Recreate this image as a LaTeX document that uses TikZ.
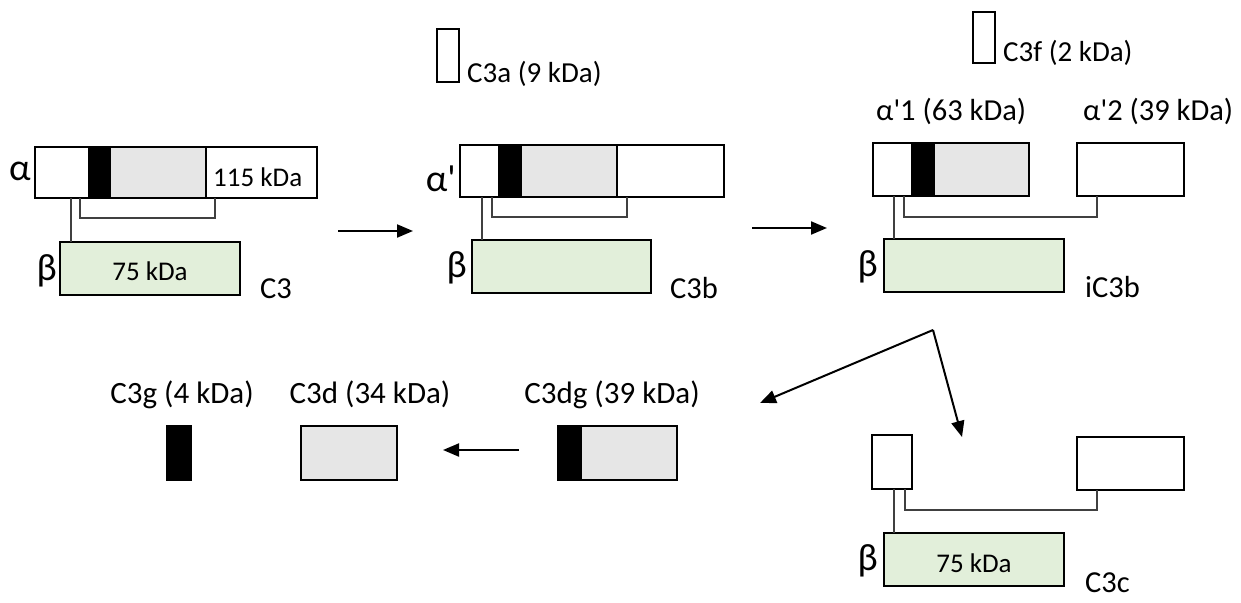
\documentclass[tikz,border=0pt]{standalone}
\usepackage{fontspec}
\setmainfont{Carlito}
\usetikzlibrary{arrows.meta}
\definecolor{betagreen}{HTML}{E2EFDA}
\definecolor{domgrey}{HTML}{E6E6E6}
\definecolor{linkgrey}{HTML}{404040}
\begin{document}
\begin{tikzpicture}[x=1pt,y=-1pt,
  chainbox/.style={draw=black, line width=1.9pt, inner sep=0pt, outer sep=0pt, anchor=north west},
  sz/.style 2 args={minimum width=#1pt, minimum height=#2pt},
  betabox/.style={chainbox, fill=betagreen},
  link/.style={draw=linkgrey, line width=1.1pt},
  react/.style={-{Triangle[length=16pt,width=13pt]}, line width=2pt},
  cname/.style={inner sep=0pt, font=\fontsize{30.5}{36}\selectfont},
  frag/.style={inner sep=0pt, font=\fontsize{29}{34}\selectfont},
  mass/.style={inner sep=0pt, font=\fontsize{27}{32}\selectfont},
  prod/.style={inner sep=0pt, font=\fontsize{31}{36}\selectfont},
  greek/.style={inner sep=0pt, anchor=base east, font=\fontsize{38}{44}\selectfont},
]
\useasboundingbox (0,0) rectangle (1241,602);

% ---------- C3 ----------
\fill[black] (88,147) rectangle (111,198);
\fill[domgrey] (111,147) rectangle (206,198);
\draw[line width=1.9pt] (206,147) -- (206,198);
\node[chainbox, sz={282}{51}] (c3a) at (35,147) {};
\node[betabox, sz={180}{53}] (c3b) at (60,242) {};
\draw[link] ([xshift=36pt]c3a.south west) -- ([xshift=36pt]c3a.south west |- c3b.north);
\draw[link] ([xshift=45pt]c3a.south west) -- ++(0,20) -| ([xshift=-102pt]c3a.south east);
\node[greek] (c3alab) at (31,180) {α};
\node[greek] (c3blab) at (57,280) {β};
\node[mass, anchor=base west] (c3amass) at (213,186) {115 kDa};
\node[mass, anchor=base] (c3bmass) at (150,280) {75 kDa};
\node[cname, anchor=base west] (c3name) at (260,298) {C3};

% ---------- C3b ----------
\node[chainbox, sz={22}{53}] (c3afrag) at (437,29) {};
\node[frag, anchor=base west] (c3afraglab) at (467,82) {C3a (9 kDa)};
\fill[black] (498,145) rectangle (522,197);
\fill[domgrey] (522,145) rectangle (617,197);
\draw[line width=1.9pt] (617,145) -- (617,197);
\node[chainbox, sz={264}{52}] (c3ba) at (460,145) {};
\node[betabox, sz={179}{53}] (c3bb) at (472,240) {};
\draw[link] ([xshift=22pt]c3ba.south west) -- ([xshift=22pt]c3ba.south west |- c3bb.north);
\draw[link] ([xshift=32pt]c3ba.south west) -- ++(0,20) -| ([xshift=-97pt]c3ba.south east);
\node[greek] (c3balab) at (456,191) {α\textquotesingle};
\node[greek] (c3bblab) at (467,277) {β};
\node[cname, anchor=base west] (c3bname) at (670,298) {C3b};

% ---------- iC3b ----------
\node[chainbox, sz={22}{51}] (c3ffrag) at (973,12) {};
\node[frag, anchor=base west] (c3ffraglab) at (1003,62) {C3f (2 kDa)};
\fill[black] (911,143) rectangle (935,196);
\fill[domgrey] (935,143) rectangle (1029,196);
\node[chainbox, sz={156}{53}] (ia1) at (873,143) {};
\node[chainbox, sz={107}{53}] (ia2) at (1077,143) {};
\node[betabox, sz={180}{53}] (ib) at (884,239) {};
\draw[link] ([xshift=21pt]ia1.south west) -- ([xshift=21pt]ia1.south west |- ib.north);
\draw[link] ([xshift=31pt]ia1.south west) -- ++(0,21) -| ([xshift=20pt]ia2.south west);
\node[cname, anchor=base west] (ia1lab) at (876,120) {α\textquotesingle1 (63 kDa)};
\node[cname, anchor=base west] (ia2lab) at (1083,120) {α\textquotesingle2 (39 kDa)};
\node[greek] (iblab) at (878,276) {β};
\node[cname, anchor=base west] (icname) at (1085,297) {iC3b};

% ---------- C3c ----------
\node[chainbox, sz={40}{54}] (ca1) at (872,435) {};
\node[chainbox, sz={107}{53}] (ca2) at (1077,437) {};
\node[betabox, sz={180}{53}] (cb) at (884,533) {};
\draw[link] ([xshift=22pt]ca1.south west) -- ([xshift=22pt]ca1.south west |- cb.north);
\draw[link] ([xshift=33pt]ca1.south west) -- ++(0,21) -| ([xshift=20pt]ca2.south west);
\node[greek] (cblab) at (878,570) {β};
\node[mass, anchor=base] (cbmass) at (974,572) {75 kDa};
\node[cname, anchor=base west] (ccname) at (1085,592) {C3c};

% ---------- C3dg, C3d, C3g ----------
\fill[black] (558,426) rectangle (582,480);
\fill[domgrey] (582,426) rectangle (677,480);
\node[chainbox, sz={119}{54}] (dg) at (558,426) {};
\node[chainbox, sz={96}{54}, fill=domgrey] (d) at (301,426) {};
\node[chainbox, sz={24}{54}, fill=black] (g) at (167,426) {};
\node[prod, anchor=base] (dglab) at (612,403) {C3dg (39 kDa)};
\node[prod, anchor=base] (dlab) at (370,403) {C3d (34 kDa)};
\node[prod, anchor=base] (glab) at (182,403) {C3g (4 kDa)};

% ---------- reaction arrows ----------
\coordinate (r1s) at (338,231);
\coordinate (r1e) at (413,231);
\coordinate (r2s) at (752,228);
\coordinate (r2e) at (827,228);
\coordinate (split) at (933,330);
\coordinate (toleft) at (760,403);
\coordinate (todown) at (962,437);
\coordinate (r4s) at (519,450);
\coordinate (r4e) at (443,450);
\draw[react] (r1s) -- (r1e);
\draw[react] (r2s) -- (r2e);
\draw[react] (split) -- (toleft);
\draw[react] (split) -- (todown);
\draw[react] (r4s) -- (r4e);
\end{tikzpicture}
\end{document}
